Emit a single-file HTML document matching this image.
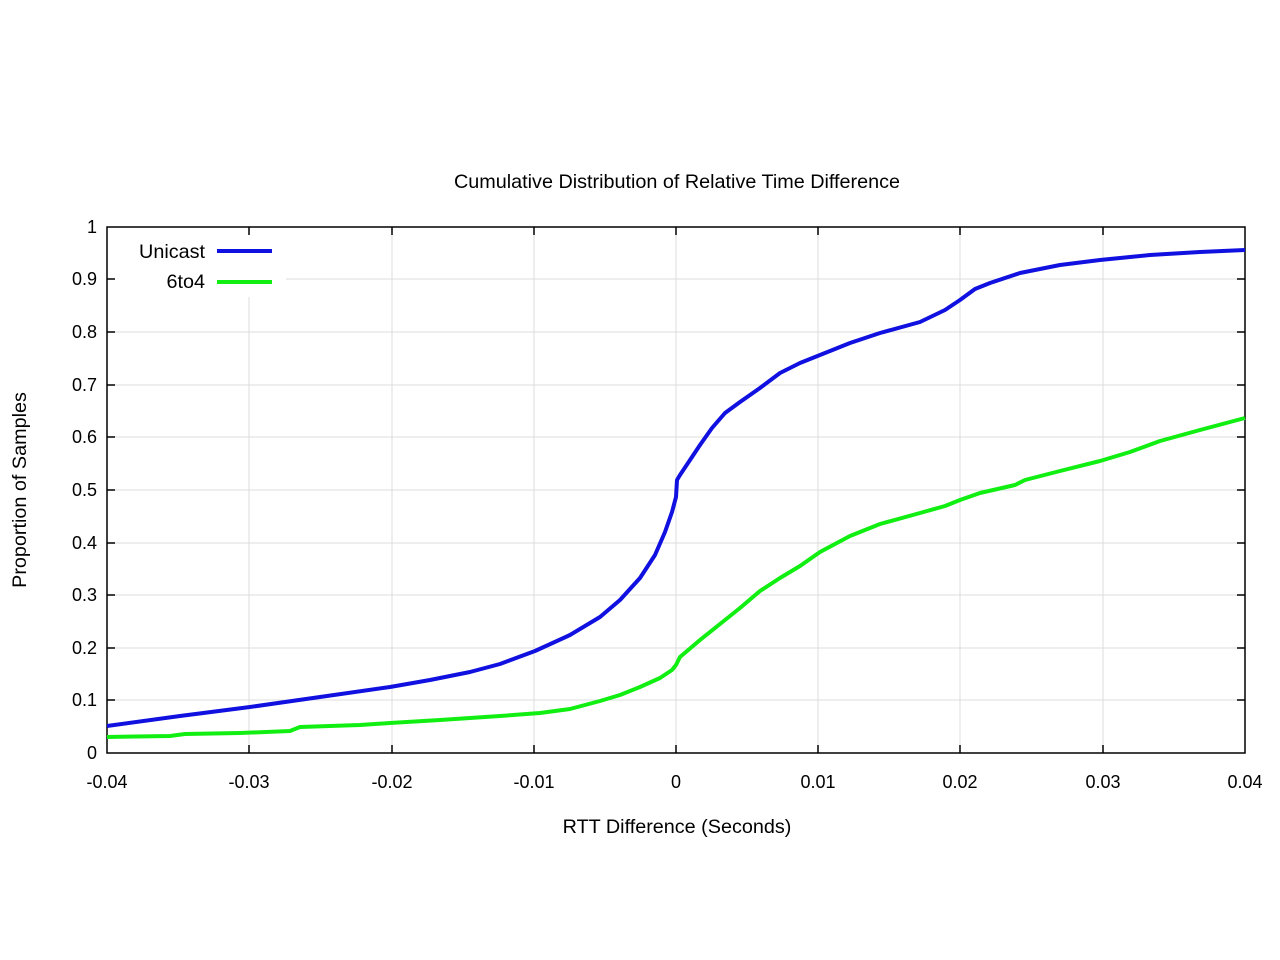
<!DOCTYPE html>
<html><head><meta charset="utf-8"><style>body{margin:0;background:#fff}svg{display:block}</style></head>
<body>
<svg width="1280" height="960" xmlns="http://www.w3.org/2000/svg" font-family="Liberation Sans, sans-serif" font-size="18">
<rect width="1280" height="960" fill="#fff"/>
<g stroke="#dcdcdc" stroke-width="1">
<line x1="249" y1="227" x2="249" y2="753"/><line x1="392" y1="227" x2="392" y2="753"/><line x1="534" y1="227" x2="534" y2="753"/><line x1="676" y1="227" x2="676" y2="753"/><line x1="818" y1="227" x2="818" y2="753"/><line x1="960" y1="227" x2="960" y2="753"/><line x1="1103" y1="227" x2="1103" y2="753"/>
<line x1="107" y1="700" x2="1245" y2="700"/><line x1="107" y1="648" x2="1245" y2="648"/><line x1="107" y1="595" x2="1245" y2="595"/><line x1="107" y1="543" x2="1245" y2="543"/><line x1="107" y1="490" x2="1245" y2="490"/><line x1="107" y1="437" x2="1245" y2="437"/><line x1="107" y1="385" x2="1245" y2="385"/><line x1="107" y1="332" x2="1245" y2="332"/><line x1="107" y1="279" x2="1245" y2="279"/>
</g>
<rect x="108" y="235" width="178" height="62" fill="#fff"/>
<g stroke="#000" stroke-width="1.5">
<rect x="107" y="227" width="1138" height="526" fill="none"/>
<path d="M249 753v-8M392 753v-8M534 753v-8M676 753v-8M818 753v-8M960 753v-8M1103 753v-8M249 227v8M392 227v8M534 227v8M676 227v8M818 227v8M960 227v8M1103 227v8"/>
<path d="M107 700h8M107 648h8M107 595h8M107 543h8M107 490h8M107 437h8M107 385h8M107 332h8M107 279h8M1245 700h-8M1245 648h-8M1245 595h-8M1245 543h-8M1245 490h-8M1245 437h-8M1245 385h-8M1245 332h-8M1245 279h-8"/>
</g>
<g text-anchor="end">
<text x="97" y="759">0</text><text x="97" y="706">0.1</text><text x="97" y="654">0.2</text><text x="97" y="601">0.3</text><text x="97" y="549">0.4</text><text x="97" y="496">0.5</text><text x="97" y="443">0.6</text><text x="97" y="391">0.7</text><text x="97" y="338">0.8</text><text x="97" y="285">0.9</text><text x="97" y="233">1</text>
<text x="205" y="258" font-size="19.8">Unicast</text><text x="205" y="288" font-size="19.8">6to4</text>
</g>
<g text-anchor="middle">
<text x="107" y="788">-0.04</text><text x="249" y="788">-0.03</text><text x="392" y="788">-0.02</text><text x="534" y="788">-0.01</text><text x="676" y="788">0</text><text x="818" y="788">0.01</text><text x="960" y="788">0.02</text><text x="1103" y="788">0.03</text><text x="1245" y="788">0.04</text>
<text x="677" y="188" font-size="19.8">Cumulative Distribution of Relative Time Difference</text>
<text x="677" y="833" font-size="19.8">RTT Difference (Seconds)</text>
<text transform="translate(26,490) rotate(-90)" font-size="19.8">Proportion of Samples</text>
</g>
<line x1="217" y1="251" x2="272" y2="251" stroke="#1010e0" stroke-width="4"/>
<line x1="217" y1="282" x2="272" y2="282" stroke="#11ee11" stroke-width="4"/>
<polyline fill="none" stroke="#1010e0" stroke-width="4" stroke-linejoin="round" points="107,726 180,716 250,707 320,697 390,687 430,680 470,672 500,664 535,651 570,635 600,617 620,600 640,578 655,555 665,532 672,512 676,497 677,480 680,475 690,460 700,445 712,428 725,413 740,402 760,388 780,373 800,363 820,355 850,343 880,333 920,322 945,310 960,300 975,289 990,283 1020,273 1060,265 1100,260 1150,255 1200,252 1245,250"/>
<polyline fill="none" stroke="#11ee11" stroke-width="4" stroke-linejoin="round" points="107,737 170,736 185,734 240,733 290,731 300,727 360,725 390,723 440,720 500,716 540,713 570,709 600,701 620,695 640,687 660,678 672,670 676,665 680,657 700,640 720,624 740,608 760,591 780,578 800,566 820,552 850,536 880,524 920,513 945,506 960,500 980,493 1015,485 1025,480 1060,471 1100,461 1130,452 1160,441 1200,430 1245,418"/>
</svg>
</body></html>
